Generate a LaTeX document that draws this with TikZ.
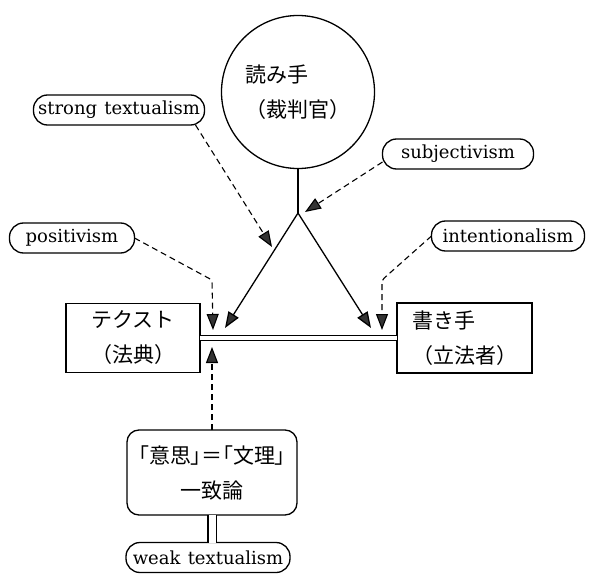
\documentclass[tikz,border=0pt]{standalone}
\usepackage{fontspec}
\usepackage{tikz}
\usetikzlibrary{arrows.meta}
\newfontfamily\jp{Noto Sans CJK JP}
\newfontfamily\jpp{Noto Sans CJK JP}[RawFeature=+palt]
\newfontfamily\termfont{DejaVu Serif}

\begin{document}
\begin{tikzpicture}[x=1pt, y=-1pt, line width=1.3pt,
  every node/.style={inner sep=0pt, outer sep=0pt},
  >={Triangle[length=16pt,width=12pt,fill=black!80]},
  box/.style={draw, align=left, font=\jp\fontsize{21}{35}\selectfont},
  term/.style={draw, rounded corners=14pt, minimum height=30pt, font=\termfont\fontsize{18}{22}\selectfont},
  guide/.style={->, line width=1.1pt, dash pattern=on 6pt off 4pt}]
\useasboundingbox (0,0) rectangle (589,580);

\node[box, circle, minimum size=153pt] (reader) at (298,92) {読み手\\（裁判官）};
\node[box, minimum width=134pt, minimum height=69pt] (statute) at (133,338) {テクスト\\（法典）};
\node[box, minimum width=135pt, minimum height=70pt] (author) at (464.5,338) {書き手\\（立法者）};
\node[box, rounded corners=12pt, align=center, minimum width=170pt, minimum height=85pt] (unity) at (212,472.5) {{\jpp 「意思」＝「文理」}\\一致論};

\node[term, minimum width=171pt] (strong) at (119,110) {strong\hspace{1.5pt} textualism};
\node[term, minimum width=151pt] (subj) at (458,154) {subjectivism};
\node[term, minimum width=125pt] (posit) at (72,238) {positivism};
\node[term, minimum width=153pt] (intent) at (508,236) {intentionalism};
\node[term, minimum width=164pt] (weak) at (208,557.5) {weak\hspace{1.5pt} textualism};

\coordinate (fork) at (298,213);
\coordinate (tipL) at (225,328);
\coordinate (tipR) at (371,328);
\coordinate (tipS) at (272,247);
\coordinate (tipJ) at (305,212);
\coordinate (bendP) at (212,280);
\coordinate (tipP) at (213,330);
\coordinate (bendI) at (382,280);
\coordinate (tipI) at (382,330);
\coordinate (tipU) at (212,347);

% reader to the two texts
\draw (reader) -- (fork);
\draw[->] (fork) -- (tipL);
\draw[->] (fork) -- (tipR);
\draw[double, line width=1.1pt, double distance=4pt] (statute.east) -- (author.west);
\draw[double, line width=1.1pt, double distance=7pt] (unity.south) -- (weak.north -| unity.south);

% positions
\draw[guide] ([xshift=-9pt]strong.south east) -- (tipS);
\draw[guide] ([yshift=-8pt]subj.west) -- (tipJ);
\draw[guide, rounded corners=3pt] (posit.east) -- (bendP) -- (tipP);
\draw[guide, rounded corners=3pt] (intent.west) -- (bendI) -- (tipI);
\draw[guide] (unity) -- (tipU);
\end{tikzpicture}
\end{document}
